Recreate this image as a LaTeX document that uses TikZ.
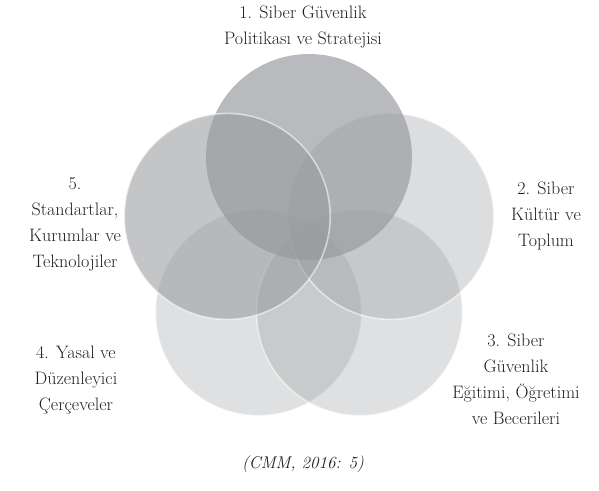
\documentclass[tikz,border=0pt]{standalone}
\usepackage{tikz}
\usetikzlibrary{positioning}
\definecolor{petal}{RGB}{150,152,156}
\definecolor{ink}{RGB}{35,31,32}
\tikzset{
  petal/.style={circle,minimum size=206pt,inner sep=0pt,fill=petal,draw=white,draw opacity=0.55,line width=1.6pt},
  label/.style={align=center,text=ink,font=\fontsize{18}{26}\selectfont}
}
\begin{document}
\begin{tikzpicture}[x=1pt,y=-1pt]
  \useasboundingbox (0,0) rectangle (599,490);
  % petals
  \node[petal,fill opacity=0.30,draw opacity=0.5] (p4) at (258.5,312.6) {};
  \node[petal,fill opacity=0.30,draw opacity=0.5] (p3) at (359.5,312.6) {};
  \node[petal,fill opacity=0.33] (p2) at (390.8,216.4) {};
  \node[petal,fill opacity=0.67,draw=none] (p1) at (309,157) {};
  \node[petal,fill opacity=0.56] (p5) at (227.2,216.4) {};
  % labels
  \node[label] (l1) at (303,27) {1. Siber Güvenlik\\Politikası ve Stratejisi};
  \node[label] (l2) at (546,216) {2. Siber\\Kültür ve\\Toplum};
  \node[label] (l3) at (516,379) {3. Siber\\Güvenlik\\Eğitimi, Öğretimi\\ve Becerileri};
  \node[label] (l4) at (76,380) {4. Yasal ve\\Düzenleyici\\Çerçeveler};
  \node[label] (l5) at (75,224) {5.\\Standartlar,\\Kurumlar ve\\Teknolojiler};
  \node[label,font=\fontsize{17}{26}\selectfont\itshape] (src) at (303,464) {(CMM, 2016: 5)};
\end{tikzpicture}
\end{document}
